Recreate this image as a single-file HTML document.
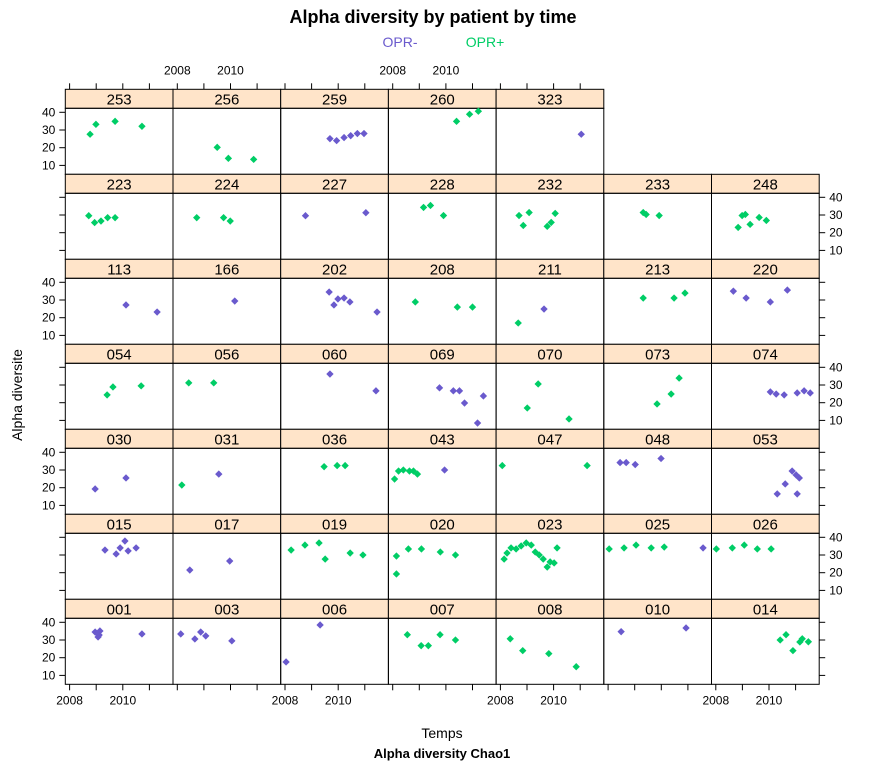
<!DOCTYPE html>
<html><head><meta charset="utf-8"><style>
body{margin:0;background:#fff;}
svg{font-family:"Liberation Sans",Arial,sans-serif;}
</style></head><body>
<svg id="chart" width="872" height="767" xmlns="http://www.w3.org/2000/svg">
<rect width="872" height="767" fill="#fff"/>
<text x="433" y="23" text-anchor="middle" font-size="18" font-weight="bold">Alpha diversity by patient by time</text>
<text x="400" y="47" text-anchor="middle" font-size="14" fill="#6A5ACD">OPR-</text>
<text x="485" y="47" text-anchor="middle" font-size="14" fill="#00CD66">OPR+</text>
<text x="442" y="738" text-anchor="middle" font-size="14">Temps</text>
<text x="442" y="758" text-anchor="middle" font-size="13" font-weight="bold">Alpha diversity  Chao1</text>
<text x="22" y="395" text-anchor="middle" font-size="14" transform="rotate(-90 22 395)">Alpha diversite</text>
<g id="panels"></g>
</svg>
<script>
const panelRows = [
 ["253","256","259","260","323"],
 ["223","224","227","228","232","233","248"],
 ["113","166","202","208","211","213","220"],
 ["054","056","060","069","070","073","074"],
 ["030","031","036","043","047","048","053"],
 ["015","017","019","020","023","025","026"],
 ["001","003","006","007","008","010","014"]
];
const xTicks = [2008, 2009, 2010, 2011];
const xTickLabels = ["2008", "2010"];
const yTicks = [10, 20, 30, 40];
// per patient: years, values, group (0 = OPR-, 1 = OPR+)
const ptYears = {
 "253":[2008.77,2008.99,2009.71,2010.72], "256":[2009.5,2009.92,2010.87], "259":[2009.69,2009.94,2010.22,2010.47,2010.72,2010.97],
 "260":[2010.4,2010.89,2011.22], "323":[2011.04],
 "223":[2008.72,2008.94,2009.18,2009.43,2009.71], "224":[2008.73,2009.74,2009.99], "227":[2008.77,2011.04],
 "228":[2009.16,2009.42,2009.91], "232":[2008.70,2008.86,2009.08,2009.76,2009.91,2010.06], "233":[2009.32,2009.43,2009.92],
 "248":[2008.84,2008.99,2009.11,2009.29,2009.63,2009.9],
 "113":[2010.12,2011.29], "166":[2010.16], "202":[2009.66,2009.84,2009.99,2010.22,2010.44,2011.46],
 "208":[2008.85,2010.43,2011.0], "211":[2008.67,2009.64], "213":[2009.32,2010.48,2010.89], "220":[2008.66,2009.14,2010.05,2010.69],
 "054":[2009.41,2009.63,2010.69], "056":[2008.43,2009.37], "060":[2009.69,2011.42],
 "069":[2009.76,2010.28,2010.51,2010.7,2011.19,2011.41], "070":[2009.01,2009.42,2010.58], "073":[2009.84,2010.37,2010.67],
 "074":[2010.05,2010.27,2010.57,2011.06,2011.32,2011.55],
 "030":[2008.96,2010.12], "031":[2008.17,2009.56], "036":[2009.47,2009.96,2010.26],
 "043":[2008.07,2008.22,2008.4,2008.63,2008.78,2008.93,2009.95], "047":[2008.07,2011.26], "048":[2008.45,2008.68,2009.02,2009.99],
 "053":[2010.31,2010.61,2010.87,2011.02,2011.14,2011.06],
 "015":[2009.33,2009.75,2009.9,2010.08,2010.2,2010.5], "017":[2008.47,2009.97], "019":[2008.23,2008.75,2009.28,2009.51,2010.45,2010.93],
 "020":[2008.14,2008.14,2008.59,2009.08,2009.79,2010.36],
 "023":[2008.14,2008.25,2008.4,2008.59,2008.78,2008.97,2009.16,2009.31,2009.46,2009.61,2009.76,2009.87,2010.02,2010.13],
 "025":[2008.04,2008.6,2009.05,2009.62,2010.11,2011.57], "026":[2008.02,2008.62,2009.07,2009.56,2010.08],
 "001":[2008.96,2009.07,2009.14,2009.11,2010.72], "003":[2008.13,2008.66,2008.88,2009.07,2010.05], "006":[2008.04,2009.32],
 "007":[2008.55,2009.07,2009.34,2009.78,2010.36], "008":[2008.37,2008.84,2009.82,2010.85], "010":[2008.49,2010.93],
 "014":[2010.42,2010.64,2010.9,2011.16,2011.25,2011.48]
};
const ptValues = {
 "253":[27.6,33.2,34.9,32.1], "256":[20.2,14.0,13.4], "259":[25.1,24.0,25.7,26.8,28.0,28.0],
 "260":[34.9,38.9,40.6], "323":[27.6],
 "223":[29.6,25.7,26.6,28.5,28.5], "224":[28.5,28.5,26.6], "227":[29.6,31.3],
 "228":[34.3,35.4,29.7], "232":[29.7,24.1,31.4,23.6,25.8,30.9], "233":[31.4,30.3,29.7],
 "248":[23.0,29.7,30.3,24.7,28.6,26.9],
 "113":[27.2,23.2], "166":[29.4], "202":[34.5,27.2,30.6,31.1,28.9,23.2],
 "208":[28.9,26.0,26.0], "211":[17.0,24.9], "213":[31.1,31.1,33.9], "220":[35.0,31.1,28.9,35.6],
 "054":[24.4,28.9,29.5], "056":[31.2,31.2], "060":[36.2,26.7],
 "069":[28.4,26.7,26.7,19.8,8.5,23.8], "070":[17.0,30.6,10.8], "073":[19.3,24.9,33.9],
 "074":[26.1,24.9,24.4,25.5,26.7,25.5],
 "030":[19.3,25.5], "031":[21.5,27.7], "036":[31.9,32.5,32.5],
 "043":[24.9,29.4,30.0,29.4,29.4,27.7,30.0], "047":[32.5,32.5], "048":[34.2,34.2,33.1,36.5],
 "053":[16.5,22.1,29.4,27.2,25.5,16.5],
 "015":[32.8,30.6,34.0,37.9,32.3,34.0], "017":[21.5,26.6], "019":[32.8,35.6,36.8,27.7,31.1,30.0],
 "020":[29.4,19.3,33.4,33.4,31.7,30.0],
 "023":[27.7,31.1,34.0,33.4,35.1,36.8,35.6,31.7,30.0,27.7,23.2,26.1,25.5,34.0],
 "025":[33.4,34.0,35.6,34.0,34.5,34.0], "026":[33.4,34.0,35.6,33.4,33.4],
 "001":[34.5,31.7,35.1,32.8,33.4], "003":[33.4,30.6,34.5,32.3,29.5], "006":[17.6,38.5],
 "007":[33.0,26.8,26.8,33.0,30.0], "008":[30.7,24.0,22.3,14.9], "010":[34.7,36.8],
 "014":[30.0,33.0,24.0,28.9,30.7,29.0]
};
const ptGroup = {
 "253":[1,1,1,1], "256":[1,1,1], "259":[0,0,0,0,0,0], "260":[1,1,1], "323":[0],
 "223":[1,1,1,1,1], "224":[1,1,1], "227":[0,0], "228":[1,1,1], "232":[1,1,1,1,1,1], "233":[1,1,1], "248":[1,1,1,1,1,1],
 "113":[0,0], "166":[0], "202":[0,0,0,0,0,0], "208":[1,1,1], "211":[1,0], "213":[1,1,1], "220":[0,0,0,0],
 "054":[1,1,1], "056":[1,1], "060":[0,0], "069":[0,0,0,0,0,0], "070":[1,1,1], "073":[1,1,1], "074":[0,0,0,0,0,0],
 "030":[0,0], "031":[1,0], "036":[1,1,1], "043":[1,1,1,1,1,1,0], "047":[1,1], "048":[0,0,0,0], "053":[0,0,0,0,0,0],
 "015":[0,0,0,0,0,0], "017":[0,0], "019":[1,1,1,1,1,1], "020":[1,1,1,1,1,1], "023":[1,1,1,1,1,1,1,1,1,1,1,1,1,1],
 "025":[1,1,1,1,1,0], "026":[1,1,1,1,1],
 "001":[0,0,0,0,0], "003":[0,0,0,0,0], "006":[0,0], "007":[1,1,1,1,1], "008":[1,1,1,1], "010":[0,0], "014":[1,1,1,1,1,1]
};
const groupColors = ["#6A5ACD", "#00CD66"];

const NS = "http://www.w3.org/2000/svg";
const root = document.getElementById("panels");
const X0 = 65.3, PW = 107.7, Y0 = 89.3, RH = 85, SH = 19;
const YR = 26.6;
function xScale(c, yr){ return X0 + c*PW + 4.3 + (yr - 2008)*YR; }
function yScale(r, v){ return Y0 + r*RH + SH + 4 + (40 - v)*1.77; }
function mk(tag, attrs, parent){
  const e = document.createElementNS(NS, tag);
  for (const k in attrs) e.setAttribute(k, attrs[k]);
  parent.appendChild(e); return e;
}
const nRows = panelRows.length;
panelRows.forEach((row, r) => {
  const top = Y0 + r*RH;
  row.forEach((id, c) => {
    const left = X0 + c*PW;
    const g = mk("g", {}, root);
    
    
    const strip = mk("rect", {x:left, y:top, width:PW, height:SH, fill:"#FFE4C9", stroke:"#000", "stroke-width":1}, g);
    
    
    const st = mk("text", {x:left+PW/2, y:top+15, "text-anchor":"middle", "font-size":15}, g);
    st.textContent = id;
    
    
    const box = mk("rect", {x:left, y:top+SH, width:PW, height:RH-SH, fill:"none", stroke:"#000", "stroke-width":1}, g);
    
    
    const xs = ptYears[id], vs = ptValues[id], gs = ptGroup[id];
    xs.forEach((yr, i) => {
      const px = xScale(c, yr), py = yScale(r, vs[i]);
      const p = mk("rect", {x:px-2.6, y:py-2.6, width:5.2, height:5.2, fill:groupColors[gs[i]], transform:`rotate(45 ${px} ${py})`}, g);
      
      
    });
    // bottom axis for last row
    if (r === nRows-1){
      xTicks.forEach(t => {
        const x = xScale(c, t);
        mk("line", {x1:x, x2:x, y1:top+RH, y2:top+RH+6, stroke:"#000"}, g);
      });
      if (c % 2 === 0){
        [2008, 2010].forEach((t, k) => {
          const tl = mk("text", {x:xScale(c, t), y:top+RH+20, "text-anchor":"middle", "font-size":12}, g);
          tl.textContent = xTickLabels[k];
          
          
        });
      }
    }
    // top axis for first row
    if (r === 0){
      xTicks.forEach(t => {
        const x = xScale(c, t);
        mk("line", {x1:x, x2:x, y1:top, y2:top-6, stroke:"#000"}, g);
      });
      if (c % 2 === 1){
        [2008, 2010].forEach((t, k) => {
          const tl = mk("text", {x:xScale(c, t), y:top-15, "text-anchor":"middle", "font-size":12}, g);
          tl.textContent = xTickLabels[k];
          
          
        });
      }
    }
    // left axis
    if (c === 0){
      yTicks.forEach(t => {
        const y = yScale(r, t);
        mk("line", {x1:left, x2:left-6, y1:y, y2:y, stroke:"#000"}, g);
        if (r % 2 === 0){
          const tl = mk("text", {x:left-10, y:y+4, "text-anchor":"end", "font-size":12}, g);
          tl.textContent = String(t);
          
          
        }
      });
    }
    // right axis
    if (c === row.length-1 && row.length === 7){
      yTicks.forEach(t => {
        const y = yScale(r, t);
        mk("line", {x1:left+PW, x2:left+PW+6, y1:y, y2:y, stroke:"#000"}, g);
        if (r % 2 === 1){
          const tl = mk("text", {x:left+PW+10, y:y+4, "text-anchor":"start", "font-size":12}, g);
          tl.textContent = String(t);
          
          
        }
      });
    }
  });
});
</script>
</body></html>
